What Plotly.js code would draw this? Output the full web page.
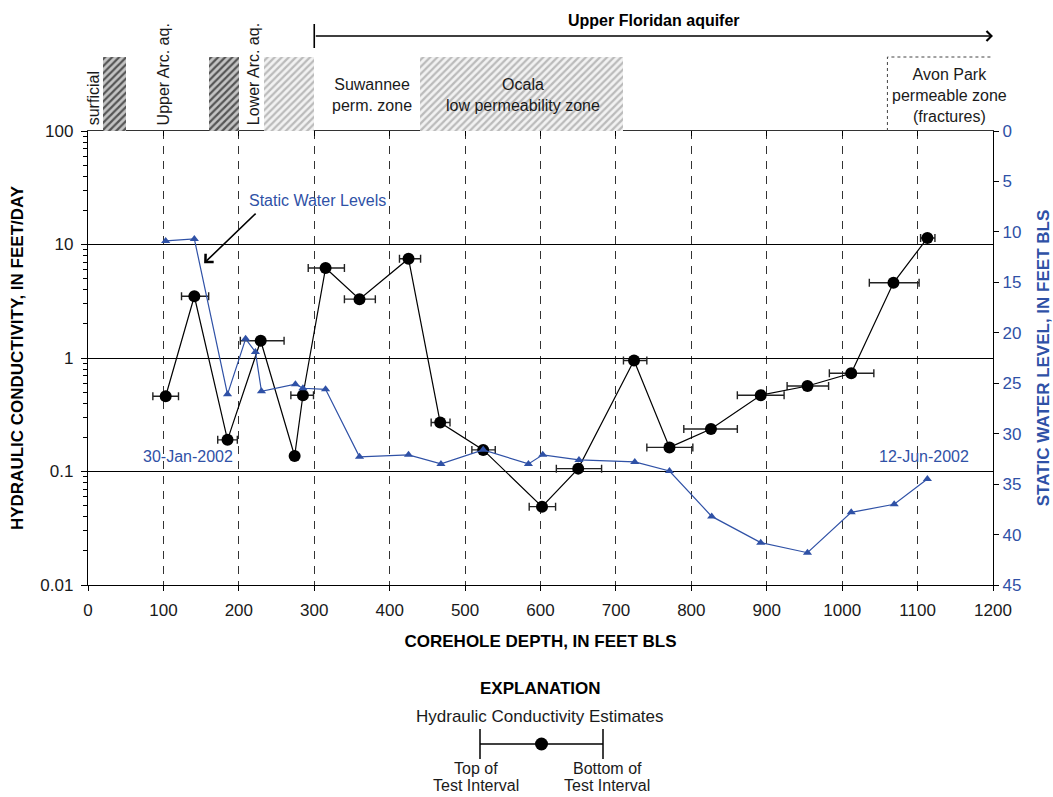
<!DOCTYPE html>
<html>
<head>
<meta charset="utf-8">
<script src="https://cdn.plot.ly/plotly-3.0.1.min.js"></script>
<style>
  html, body { margin: 0; padding: 0; background: #ffffff; }
  #chart { width: 1053px; height: 797px; }
</style>
</head>
<body>
<div id="chart"></div>
<script>
// Hydraulic conductivity estimates: depth of test midpoint, value, and test interval limits
const kDepth  = [103, 141, 185, 229, 274, 285, 315, 360, 425, 467, 524, 602, 650, 724, 771, 826, 892, 954, 1012, 1068, 1113];
const kValue  = [0.46, 3.5, 0.19, 1.42, 0.137, 0.47, 6.2, 3.3, 7.5, 0.27, 0.155, 0.049, 0.106, 0.95, 0.163, 0.237, 0.47, 0.567, 0.733, 4.6, 11.4];
const kTop    = [86, 124, 172, 202, 274, 269, 292, 340, 413, 455, 509, 585, 621, 710, 741, 790, 861, 927, 983, 1036, 1104];
const kBottom = [120, 160, 198, 260, 274, 299, 340, 381, 441, 480, 540, 620, 681, 741, 802, 861, 923, 982, 1042, 1102, 1123];

// Static water levels measured while drilling (feet below land surface)
const swlDepth = [103, 141, 185, 209, 222, 230, 275, 285, 315, 360, 425, 468, 524, 584, 603, 651, 725, 771, 827, 892, 954, 1012, 1069, 1113];
const swlLevel = [10.9, 10.7, 26.1, 20.6, 21.9, 25.8, 25.1, 25.5, 25.6, 32.3, 32.1, 33.0, 31.6, 33.0, 32.1, 32.6, 32.8, 33.7, 38.2, 40.8, 41.8, 37.8, 37.0, 34.5];

// Hydrogeologic units along the corehole
const zoneTop    = [20, 160, 233, 440];
const zoneBottom = [50, 200, 300, 710];
const zoneKind   = ['confining', 'confining', 'semiconfining', 'semiconfining'];
const avonParkTop = 1060;
const floridanTop = 300;

// Axis tick labels
const kTickVals = [0.01, 0.1, 1, 10, 100];
const kTickText = ['0.01', '0.1', '1', '10', '100'];

const BLUE = '#2f51a6';
const INK = '#1a1a1a';
const FONT = 'Liberation Sans, Arial, sans-serif';

// geometry of the page (pixels)
const W = 1053, H = 797;
const M = {l: 88, r: 60, t: 53, b: 212};
const plotBottomPx = H - M.b;           // 585
const mainTopPx = 131;                  // top of conductivity panel
const zoneTopPx = 57;                   // top of the unit boxes
const areaH = H - M.t - M.b;            // paper height in px
const mainFrac = (plotBottomPx - mainTopPx) / areaH;
const px2py = p => (plotBottomPx - p) / areaH;       // page pixel y -> paper y
const px2xx = p => (p - M.l) / (W - M.l - M.r);      // page pixel x -> paper x
const zoneRangeTop = (mainTopPx - M.t) / (mainTopPx - zoneTopPx);
const zoneY = p => (mainTopPx - p) / (mainTopPx - zoneTopPx);   // page pixel y -> unit-box axis

// minor ticks for the log axis
const minorVals = [];
for (let e = -2; e < 2; e++) for (let m = 2; m <= 9; m++) minorVals.push(m * Math.pow(10, e));

const zoneStyle = {
  confining:     {fg: '#555555', bg: '#c4c4c4'},
  semiconfining: {fg: '#bbbbbb', bg: '#f2f2f2'}
};

const traces = [];

// unit boxes (hatched)
['confining', 'semiconfining'].forEach(kind => {
  const idx = zoneKind.map((k, i) => k === kind ? i : -1).filter(i => i >= 0);
  traces.push({
    type: 'bar',
    xaxis: 'x3', yaxis: 'y3',
    x: idx.map(i => (zoneTop[i] + zoneBottom[i]) / 2),
    width: idx.map(i => zoneBottom[i] - zoneTop[i]),
    y: idx.map(() => 1),
    base: 0,
    marker: {
      color: zoneStyle[kind].bg,
      line: {width: 0},
      pattern: {shape: '/', fgcolor: zoneStyle[kind].fg, bgcolor: zoneStyle[kind].bg, size: 5, solidity: 0.45, fillmode: 'replace'}
    },
    hoverinfo: 'skip'
  });
});

// Avon Park permeable zone outline (dotted)
traces.push({
  type: 'scatter', mode: 'lines',
  xaxis: 'x3', yaxis: 'y3',
  x: [avonParkTop, avonParkTop, 1200],
  y: [0, 1, 1],
  line: {color: '#444', width: 1, dash: 'dot'},
  hoverinfo: 'skip'
});

// hydraulic conductivity with test intervals
traces.push({
  type: 'scatter', mode: 'lines+markers',
  xaxis: 'x', yaxis: 'y',
  x: kDepth, y: kValue,
  line: {color: '#000', width: 1.2},
  marker: {symbol: 'circle', size: 12, color: '#000'},
  error_x: {
    type: 'data', symmetric: false,
    array: kBottom.map((b, i) => b - kDepth[i]),
    arrayminus: kTop.map((t, i) => kDepth[i] - t),
    color: '#222', thickness: 1.4, width: 4
  },
  hoverinfo: 'skip'
});

// static water levels
traces.push({
  type: 'scatter', mode: 'lines+markers',
  xaxis: 'x2', yaxis: 'y2',
  x: swlDepth, y: swlLevel,
  line: {color: BLUE, width: 1.2},
  marker: {symbol: 'triangle-up', size: 8, color: BLUE},
  hoverinfo: 'skip'
});

const tickFont = {family: FONT, size: 17, color: INK};
const titleFont = {family: FONT, size: 17, color: '#000', weight: 'bold'};
const labelFont = {family: FONT, size: 16, color: INK};

function note(o) {
  return Object.assign({showarrow: false, xanchor: 'center', yanchor: 'middle'}, o);
}

const annotations = [
  // aquifer arrow
  {xref: 'x3', yref: 'paper', x: 1200, y: px2py(36), axref: 'x3', ax: floridanTop, ayref: 'pixel', ay: 0,
   showarrow: true, arrowhead: 4, arrowsize: 1.2, arrowwidth: 1.6, arrowcolor: '#000', text: ''},
  note({xref: 'x3', yref: 'paper', x: (floridanTop + 1200) / 2, y: px2py(20), text: '<b>Upper Floridan aquifer</b>',
   font: {family: FONT, size: 16, color: '#000'}}),
  // unit labels
  note({xref: 'x3', yref: 'y3', x: 7, y: zoneY(127), text: 'surficial', textangle: -90, yanchor: 'bottom', font: labelFont}),
  note({xref: 'x3', yref: 'y3', x: 100, y: zoneY(127), text: 'Upper Arc. aq.', textangle: -90, yanchor: 'bottom', font: labelFont}),
  note({xref: 'x3', yref: 'y3', x: 219, y: zoneY(127), text: 'Lower Arc. aq.', textangle: -90, yanchor: 'bottom', font: labelFont}),
  note({xref: 'x3', yref: 'y3', x: 377, y: zoneY(95), text: 'Suwannee<br>perm. zone', font: labelFont}),
  note({xref: 'x3', yref: 'y3', x: 577, y: zoneY(95), text: 'Ocala<br>low permeability zone', font: labelFont}),
  note({xref: 'x3', yref: 'y3', x: 1142, y: zoneY(95), text: 'Avon Park<br>permeable zone<br>(fractures)', font: labelFont}),
  // water-level labels
  note({xref: 'x', yref: 'y2', x: 304, y: 6.9, text: 'Static Water Levels', font: {family: FONT, size: 16, color: BLUE}}),
  {xref: 'x', yref: 'y2', x: 154, y: 13.1, ax: 53, ay: -51, axref: 'pixel', ayref: 'pixel', text: '',
   showarrow: true, arrowhead: 4, arrowsize: 1.4, arrowwidth: 1.6, arrowcolor: '#000'},
  note({xref: 'x', yref: 'y2', x: 133, y: 32.3, text: '30-Jan-2002', font: {family: FONT, size: 16, color: BLUE}}),
  note({xref: 'x', yref: 'y2', x: 1109, y: 32.3, text: '12-Jun-2002', font: {family: FONT, size: 16, color: BLUE}}),
  // explanation
  note({xref: 'paper', yref: 'paper', x: px2xx(540), y: px2py(688), text: '<b>EXPLANATION</b>',
   font: {family: FONT, size: 17, color: '#000'}}),
  note({xref: 'paper', yref: 'paper', x: px2xx(540), y: px2py(716), text: 'Hydraulic Conductivity Estimates',
   font: {family: FONT, size: 17, color: INK}}),
  note({xref: 'paper', yref: 'paper', x: px2xx(476), y: px2py(769), text: 'Top of', font: labelFont}),
  note({xref: 'paper', yref: 'paper', x: px2xx(476), y: px2py(785), text: 'Test Interval', font: labelFont}),
  note({xref: 'paper', yref: 'paper', x: px2xx(607), y: px2py(769), text: 'Bottom of', font: labelFont}),
  note({xref: 'paper', yref: 'paper', x: px2xx(607), y: px2py(785), text: 'Test Interval', font: labelFont})
];

const shapes = [
  // start of the aquifer arrow
  {type: 'line', xref: 'x3', yref: 'paper', x0: floridanTop, x1: floridanTop, y0: px2py(48), y1: px2py(24),
   line: {color: '#000', width: 1.6}},
  // explanation symbol
  {type: 'line', xref: 'paper', yref: 'paper', x0: px2xx(480), x1: px2xx(603), y0: px2py(744), y1: px2py(744),
   line: {color: '#000', width: 1.5}},
  {type: 'line', xref: 'paper', yref: 'paper', x0: px2xx(480), x1: px2xx(480), y0: px2py(729), y1: px2py(759),
   line: {color: '#000', width: 1.5}},
  {type: 'line', xref: 'paper', yref: 'paper', x0: px2xx(603), x1: px2xx(603), y0: px2py(729), y1: px2py(759),
   line: {color: '#000', width: 1.5}},
  {type: 'circle', xref: 'paper', yref: 'paper', x0: px2xx(535), x1: px2xx(548), y0: px2py(737.5), y1: px2py(750.5),
   fillcolor: '#000', line: {color: '#000', width: 0}}
];

const layout = {
  width: W, height: H,
  margin: M,
  paper_bgcolor: '#fff', plot_bgcolor: 'rgba(0,0,0,0)',
  showlegend: false,
  hovermode: false,
  font: {family: FONT, color: INK},
  xaxis: {
    domain: [0, 1], anchor: 'y', range: [0, 1200], tickmode: 'linear', tick0: 0, dtick: 100,
    showgrid: true, griddash: '8px,7px', gridcolor: '#333', gridwidth: 1,
    showline: true, linecolor: '#000', linewidth: 1.2, zeroline: false,
    ticks: 'outside', ticklen: 5, tickcolor: '#000', tickfont: tickFont, ticklabelstandoff: 4,
    title: {text: 'COREHOLE DEPTH, IN FEET BLS', font: titleFont, standoff: 16}
  },
  xaxis2: {
    overlaying: 'x', anchor: 'y', side: 'top', range: [0, 1200], tickmode: 'linear', tick0: 0, dtick: 100,
    showgrid: false, showline: true, linecolor: '#333', linewidth: 1.2, zeroline: false,
    ticks: 'inside', ticklen: 5, tickcolor: '#000', showticklabels: false
  },
  yaxis: {
    domain: [0, mainFrac], anchor: 'x', type: 'log', range: [-2, 2],
    tickmode: 'array', tickvals: kTickVals, ticktext: kTickText,
    showgrid: true, gridcolor: '#000', gridwidth: 1,
    showline: true, linecolor: '#000', linewidth: 1.2, zeroline: false,
    ticks: 'outside', ticklen: 6, tickcolor: '#000', tickfont: tickFont, ticklabelstandoff: 4,
    minor: {tickmode: 'array', tickvals: minorVals, ticks: 'outside', ticklen: 4, tickcolor: '#000', showgrid: false},
    title: {text: 'HYDRAULIC CONDUCTIVITY, IN FEET/DAY', font: titleFont, standoff: 12}
  },
  yaxis2: {
    overlaying: 'y', anchor: 'x2', side: 'right', range: [45, 0], tickmode: 'linear', tick0: 0, dtick: 5,
    showgrid: false, showline: true, linecolor: '#000', linewidth: 1.2, zeroline: false,
    ticks: 'outside', ticklen: 5, tickcolor: '#000', tickfont: {family: FONT, size: 17, color: BLUE},
    title: {text: 'STATIC WATER LEVEL, IN FEET BLS', font: {family: FONT, size: 17, color: BLUE, weight: 'bold'}, standoff: 16}
  },
  xaxis3: {domain: [0, 1], anchor: 'y3', range: [0, 1200], visible: false, fixedrange: true},
  yaxis3: {domain: [mainFrac, 1], anchor: 'x3', range: [0, zoneRangeTop], visible: false, fixedrange: true},
  bargap: 0,
  annotations: annotations,
  shapes: shapes
};

Plotly.newPlot('chart', traces, layout, {staticPlot: true, displayModeBar: false});
</script>
</body>
</html>
